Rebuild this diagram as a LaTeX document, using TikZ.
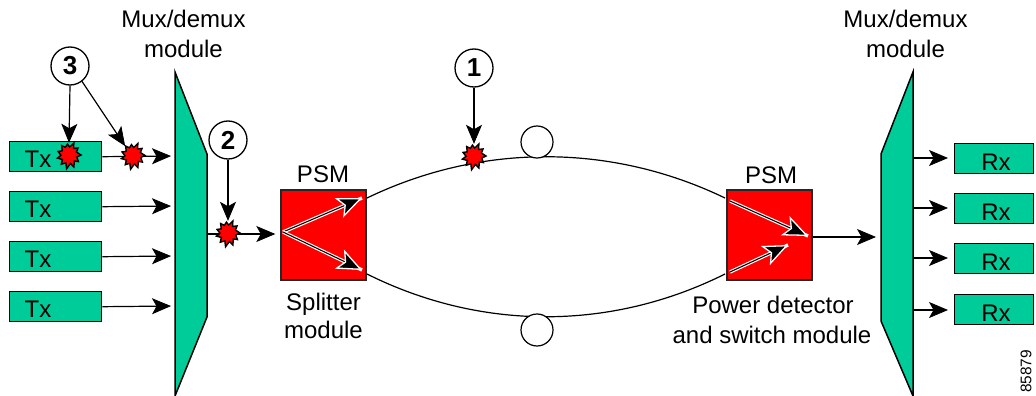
\documentclass[tikz,border=0pt]{standalone}
\usepackage{fontspec}
\setmainfont{Liberation Sans}
\usetikzlibrary{arrows.meta}
\definecolor{modgreen}{HTML}{00CC99}
\definecolor{psmred}{HTML}{FF0000}
\tikzset{
  x=1pt,y=-1pt,
  txt/.style={inner sep=0,anchor=base,font=\fontsize{24}{28}\selectfont},
  mod/.style={draw=black,line width=1.5pt,fill=modgreen,line join=miter},
  chan/.style={draw=black,line width=1.4pt,fill=modgreen,inner sep=0,anchor=north west},
  psm/.style={draw=black!85,line width=1.4pt,fill=psmred,inner sep=0,minimum width=85pt,minimum height=90pt},
  num/.style={circle,draw=black,line width=1.3pt,fill=white,inner sep=0,minimum size=38pt,font=\fontsize{26}{28}\selectfont\bfseries},
  ring/.style={circle,draw=black,line width=1.2pt,fill=white,inner sep=0,minimum size=32pt},
  burstanchor/.style={circle,inner sep=0,minimum size=24pt},
  burstline/.style={draw=black,line width=1.4pt,fill=psmred,line join=miter,miter limit=5},
  arr/.style={draw=black,line width=1.2pt,-{Stealth[length=19pt,width=16pt,inset=4.5pt,line width=.8pt]}},
  fibre/.style={draw=black,line width=1.2pt},
  whitearr/.style={draw=black,line width=1.1pt,
    preaction={draw=white,line width=3.4pt,-},
    -{Stealth[length=25pt,width=21pt,inset=6pt,fill=black,color=white,line width=1.3pt]}},
}
\newcommand{\burstat}[1]{%
  \draw[burstline,shift={(#1)}]
    (0:12) -- (15:8) -- (35:11.5) -- (48:8) -- (68:13) -- (80:8.5) -- (100:14) -- (112:8.5)
    -- (130:12) -- (146:8) -- (165:12) -- (178:8) -- (198:11.5) -- (212:8) -- (232:12)
    -- (245:8.5) -- (262:11) -- (275:8) -- (292:13) -- (305:8) -- (322:11.5) -- (338:8) -- cycle;}
\begin{document}
\begin{tikzpicture}
\useasboundingbox (0,0) rectangle (1036,396);
% mux / demux modules
\draw[mod] (175,72) -- (207,154) -- (207,317) -- (175,396) -- cycle;
\draw[mod] (913,72) -- (881,154) -- (881,321) -- (913,396) -- cycle;
\node[txt] (muxL1) at (183.5,28) {Mux/demux};
\node[txt] (muxL2) at (183.5,58) {module};
\node[txt] (muxR1) at (905.5,28) {Mux/demux};
\node[txt] (muxR2) at (905.5,58) {module};
% port coordinates on the mux modules
\coordinate (mi1) at (175,156);
\coordinate (mi2) at (175,206);
\coordinate (mi3) at (175,256);
\coordinate (mi4) at (175,306);
\coordinate (mo1) at (913,158);
\coordinate (mo2) at (913,208);
\coordinate (mo3) at (913,258);
\coordinate (mo4) at (913,310);
\coordinate (mlo) at (207,234);
\coordinate (mri) at (881,237);
% Tx / Rx boxes
\foreach \n/\y in {1/141,2/191,3/241,4/291}{
  \node[chan,minimum width=92pt,minimum height=30pt] (tx\n) at (9,\y) {};
  \draw[arr,shorten >=4pt] (tx\n.east) -- (mi\n);
}
\foreach \n/\y in {1/167,2/217,3/267,4/317}{
  \node[txt] (txl\n) at (38,\y) {Tx};
}
\foreach \n/\y in {1/143,2/193,3/243,4/294}{
  \node[chan,minimum width=79pt,minimum height=30pt] (rx\n) at (954,\y) {};
  \draw[arr,shorten >=6pt] (mo\n) -- (mo\n -| rx\n.west);
}
\foreach \n/\y in {1/170,2/220,3/270,4/321}{
  \node[txt] (rxl\n) at (996,\y) {Rx};
}
% PSMs
\node[psm] (psmL) at (323.5,235) {};
\node[psm] (psmR) at (769.5,235) {};
\node[txt] (psmLt) at (323,182) {PSM};
\node[txt] (psmRt) at (771,183) {PSM};
\node[txt] (split1) at (323.5,310) {Splitter};
\node[txt] (split2) at (323.5,338) {module};
\node[txt] (pow1) at (773,313) {Power detector};
\node[txt] (pow2) at (772,343) {and switch module};
% inner arrows
\coordinate (la) at (283,232);
\coordinate (lb) at (362,198);
\coordinate (lc) at (362,270);
\coordinate (ra1) at (730,201);
\coordinate (rb1) at (808,236);
\coordinate (ra2) at (730,272);
\coordinate (rb2) at (788,245);
\draw[whitearr] (la) -- (lb);
\draw[whitearr] (la) -- (lc);
\draw[whitearr] (ra1) -- (rb1);
\draw[whitearr] (ra2) -- (rb2);
% fibres
\coordinate (f1) at (367,198);
\coordinate (f2) at (725,198);
\coordinate (f3) at (367,274);
\coordinate (f4) at (725,274);
\draw[fibre] (f1) .. controls (481,143) and (611,143) .. (f2);
\draw[fibre] (f3) .. controls (481,331) and (611,331) .. (f4);
\node[ring] (ringT) at (537,142) {};
\node[ring] (ringB) at (537,330) {};
% mux to psm links
\draw[arr,shorten >=5pt] (mlo) -- (mlo -| psmL.west);
\draw[arr,shorten >=5pt] (psmR.east |- mri) -- (mri);
% fault bursts
\node[burstanchor] (b3a) at (69,155) {};
\node[burstanchor] (b3b) at (133,155.5) {};
\node[burstanchor] (b2) at (228,233) {};
\node[burstanchor] (b1) at (474,156) {};
\burstat{b3a}\burstat{b3b}\burstat{b2}\burstat{b1}
% numbered callouts
\node[num] (c3) at (70,66) {3};
\node[num] (c2) at (228,140) {2};
\node[num] (c1) at (474,68) {1};
\draw[arr] (c3.south) -- (b3a.north);
\draw[arr] (c3.-52) -- (b3b.130);
\draw[arr] (c2.south) -- (b2.north);
\draw[arr] (c1.south) -- (b1.north);
% figure number
\node[inner sep=0,rotate=90,font=\fontsize{15.4}{18}\selectfont] (fig) at (1026,371.5) {85879};
\end{tikzpicture}
\end{document}
